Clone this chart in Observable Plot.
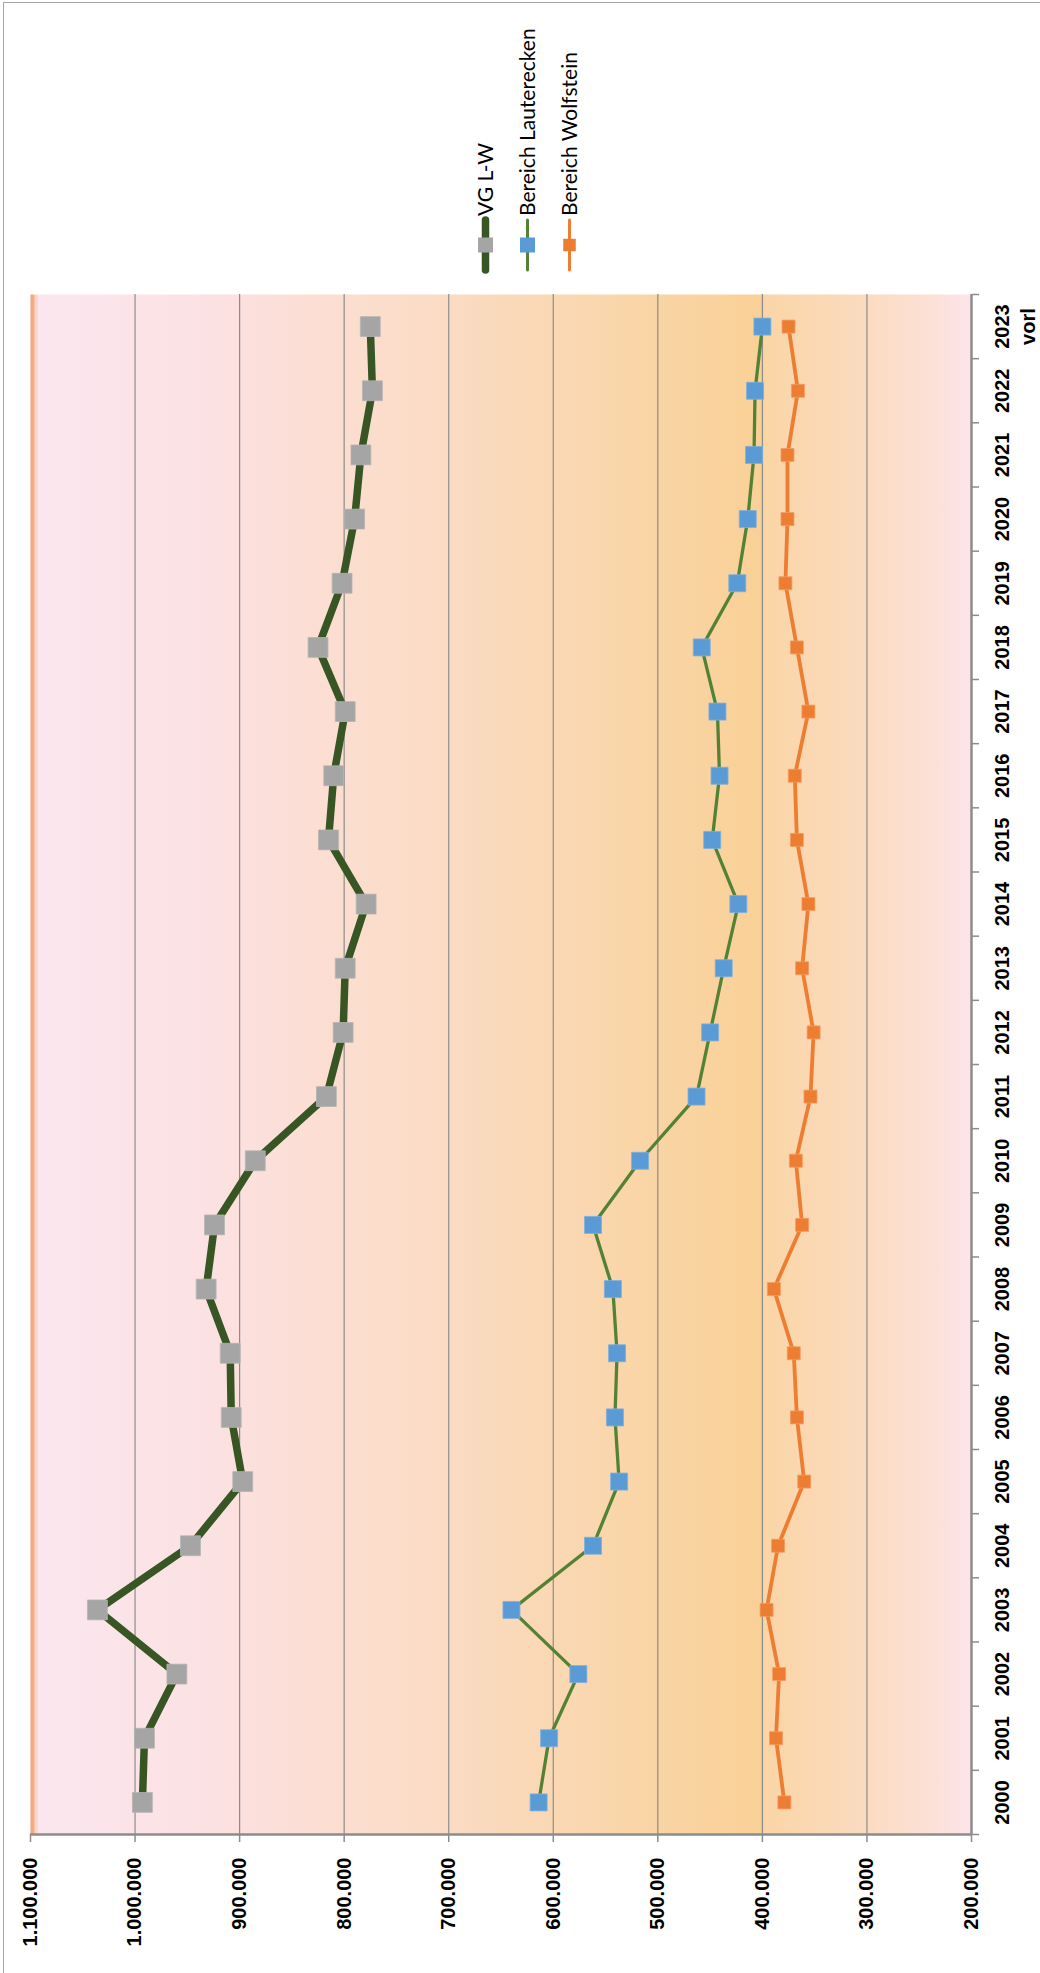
<!DOCTYPE html>
<html>
<head>
<meta charset="utf-8">
<script src="https://cdn.jsdelivr.net/npm/d3@7"></script>
<script src="https://cdn.jsdelivr.net/npm/@observablehq/plot@0.6"></script>
<style>
  html, body { margin: 0; padding: 0; background: #fff; }
  #wrap { position: relative; width: 1040px; height: 1973px; overflow: hidden; background: #fff; font-family: Lato, "Liberation Sans", sans-serif; }
  #frame { position: absolute; left: 3px; top: 2px; width: 2000px; height: 2000px; border-left: 1.5px solid #a6a6a6; border-top: 1.5px solid #a6a6a6; }
  #legend { position: absolute; left: 0; top: 0; }
  #chart { position: absolute; left: 0; top: 280px; }
</style>
</head>
<body>
<div id="wrap">
  <div id="frame"></div>
  <div id="chart"></div>
  <svg id="legend" width="1040" height="280"></svg>
</div>
<script>
// ---- data ----
const years = [2000, 2001, 2002, 2003, 2004, 2005, 2006, 2007, 2008, 2009, 2010, 2011,
               2012, 2013, 2014, 2015, 2016, 2017, 2018, 2019, 2020, 2021, 2022, 2023];
const yearLabels = ["2000", "2001", "2002", "2003", "2004", "2005", "2006", "2007", "2008", "2009", "2010", "2011",
                    "2012", "2013", "2014", "2015", "2016", "2017", "2018", "2019", "2020", "2021", "2022", "2023\nvorl"];
const seriesNames = ["VG L-W", "Bereich Lauterecken", "Bereich Wolfstein"];
const vgLW = [993000, 991000, 960000, 1036000, 947000, 897000, 908000, 909000, 932000, 924000, 885000, 817000,
              801000, 799000, 779000, 815000, 810000, 799000, 825000, 802000, 790000, 784000, 773000, 775000];
const lauterecken = [614000, 604000, 576000, 640000, 562000, 537000, 541000, 539000, 543000, 562000, 517000, 463000,
                     450000, 437000, 423000, 448000, 441000, 443000, 458000, 424000, 414000, 408000, 407000, 400000];
const wolfstein = [379000, 387000, 384000, 396000, 385000, 360000, 367000, 370000, 389000, 362000, 368000, 354000,
                   351000, 362000, 356000, 367000, 369000, 356000, 367000, 378000, 376000, 376000, 366000, 375000];
const valueTicks = [1100000, 1000000, 900000, 800000, 700000, 600000, 500000, 400000, 300000, 200000];

// ---- helpers ----
const de = d3.formatLocale({decimal: ",", thousands: ".", grouping: [3], currency: ["", " €"]});
const fmt = de.format(",d");
const rows = (vals) => years.map((y, i) => ({year: y, value: vals[i]}));
const vgRows = rows(vgLW), lRows = rows(lauterecken), wRows = rows(wolfstein);
const boundaries = years.map(y => y - 0.5).concat([years[years.length - 1] + 0.5]);
const gridTicks = valueTicks.filter(v => v < 1100000 && v > 200000);

const bgStops = [
  [0, "#f0a27a"], [0.004, "#f4b08e"], [0.0045, "#fcd3c6"], [0.008, "#fcd8d2"], [0.0085, "#fbe6ee"],
  [0.06, "#fbe5ec"], [0.2, "#fbe1e1"], [0.3, "#fcded4"], [0.42, "#fbdcc6"], [0.55, "#fad8b4"],
  [0.68, "#f9d4a3"], [0.778, "#f9d197"], [0.781, "#fad5a6"], [0.9, "#fbdcc4"], [0.96, "#fce1d8"], [1, "#fce4ea"]
];

const gray = "#8c8c8c";
const labelFont = "'Liberation Sans', Arial, sans-serif";
const chart = Plot.plot({
  width: 1040,
  height: 1693,
  marginTop: 14,
  marginBottom: 139,
  marginLeft: 30,
  marginRight: 69,
  style: {fontFamily: labelFont, fontSize: "20px", background: "transparent", color: "#000", overflow: "visible"},
  x: {type: "linear", domain: [1100000, 200000], axis: null},
  y: {type: "linear", domain: [1999.5, 2023.5], axis: null},
  marks: [
    () => {
      const defs = d3.create("svg:defs");
      const g = defs.append("linearGradient").attr("id", "bg").attr("x1", 0).attr("x2", 1).attr("y1", 0).attr("y2", 0);
      bgStops.forEach(([o, c]) => g.append("stop").attr("offset", o).attr("stop-color", c));
      return defs.node();
    },
    Plot.frame({fill: "url(#bg)", stroke: "none"}),
    Plot.gridX(gridTicks, {stroke: gray, strokeOpacity: 1, strokeWidth: 1.2}),
    Plot.axisX(valueTicks, {anchor: "bottom", tickSize: 8, tickFormat: () => "", label: null, stroke: gray, strokeWidth: 1.5}),
    Plot.axisY(boundaries, {anchor: "right", tickSize: 7, tickFormat: () => "", label: null, stroke: gray, strokeWidth: 1.5}),
    Plot.ruleY([1999.5], {stroke: gray, strokeWidth: 2.5}),
    Plot.ruleX([200000], {stroke: gray, strokeWidth: 2.5}),
    // VG L-W
    Plot.line(vgRows, {x: "value", y: "year", stroke: "#375623", strokeWidth: 7.5, strokeLinejoin: "round", strokeLinecap: "round"}),
    Plot.dot(vgRows, {x: "value", y: "year", symbol: "square", r: 11.2, fill: "#a5a5a5", stroke: "#b4b4b4", strokeWidth: 0.8}),
    // Bereich Lauterecken
    Plot.line(lRows, {x: "value", y: "year", stroke: "#548235", strokeWidth: 3.3, strokeLinejoin: "round", strokeLinecap: "round"}),
    Plot.dot(lRows, {x: "value", y: "year", symbol: "square", r: 9.6, fill: "#5b9bd5", stroke: "#7eb0de", strokeWidth: 0.8}),
    // Bereich Wolfstein
    Plot.line(wRows, {x: "value", y: "year", stroke: "#ed7d31", strokeWidth: 3.8, strokeLinejoin: "round", strokeLinecap: "round"}),
    Plot.dot(wRows, {x: "value", y: "year", symbol: "square", r: 7.3, fill: "#ed7d31", stroke: "#f29a5e", strokeWidth: 0.8}),
    // value labels (rotated)
    Plot.text(valueTicks, {x: d => d, frameAnchor: "bottom", dy: 23, rotate: -90, textAnchor: "end", lineAnchor: "middle",
      text: d => fmt(d), fontSize: 20, fontWeight: 700, fontFamily: labelFont, fill: "#000"}),
    // year labels (rotated)
    Plot.text(years, {y: d => d, frameAnchor: "right", dx: 19, rotate: -90, textAnchor: "middle", lineAnchor: "top",
      lineHeight: 1.3, text: (d, i) => yearLabels[i], fontSize: 20, fontWeight: 700, fontFamily: labelFont, fill: "#000"})
  ]
});
document.getElementById("chart").appendChild(chart);

// ---- legend (rotated, above the chart) ----
const legendStyles = [
  {stroke: "#375623", sw: 7.5, fill: "#a5a5a5", size: 15},
  {stroke: "#548235", sw: 3, fill: "#5b9bd5", size: 15},
  {stroke: "#ed7d31", sw: 3, fill: "#ed7d31", size: 12.5}
];
const lg = d3.select("#legend");
seriesNames.forEach((name, i) => {
  const cx = 485.5 + i * 42;
  const st = legendStyles[i];
  const g = lg.append("g");
  g.append("line").attr("x1", cx).attr("x2", cx).attr("y1", 220).attr("y2", 270)
    .attr("stroke", st.stroke).attr("stroke-width", st.sw).attr("stroke-linecap", "round");
  g.append("rect").attr("x", cx - st.size / 2).attr("y", 245 - st.size / 2).attr("width", st.size).attr("height", st.size)
    .attr("fill", st.fill);
  g.append("text").attr("transform", `translate(${cx},216) rotate(-90)`)
    .attr("text-anchor", "start").attr("dy", "0.36em")
    .attr("font-family", "Lato, 'Liberation Sans', sans-serif").attr("font-size", 21).attr("fill", "#000")
    .text(name);
});
</script>
</body>
</html>
